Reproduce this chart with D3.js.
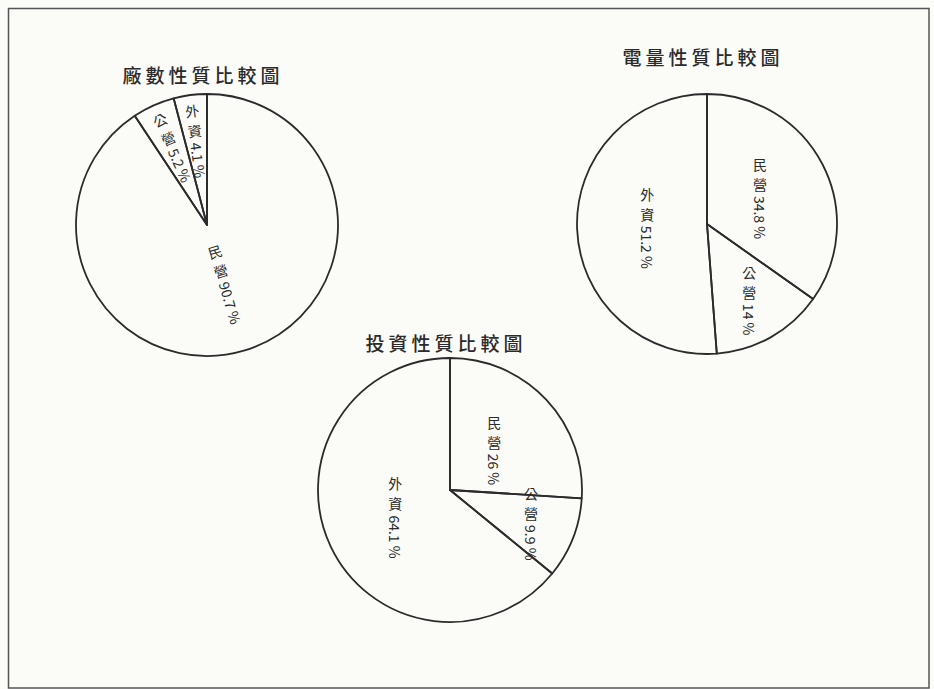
<!DOCTYPE html>
<html>
<head>
<meta charset="utf-8">
<script src="https://cdn.jsdelivr.net/npm/d3@7"></script>
<style>
  body { margin: 0; background: #fbfbf8; }
  svg { display: block; }
</style>
</head>
<body>
<div id="data-vis"></div>
<script>
// chart data
const titles = ["廠數性質比較圖", "電量性質比較圖", "投資性質比較圖"];
const categories = ["民營", "公營", "外資"];
const factoryShares = [90.7, 5.2, 4.1];
const powerShares = [34.8, 14, 51.2];
const investShares = [26, 9.9, 64.1];

const w = 934;
const h = 689;
const ink = "#2b2b2b";
const font = "'Noto Sans CJK TC', 'Noto Sans CJK SC', sans-serif";

const charts = [
  { title: titles[0], values: factoryShares, cx: 207, cy: 225, r: 131, ty: 83 },
  { title: titles[1], values: powerShares, cx: 707, cy: 224, r: 130, ty: 65 },
  { title: titles[2], values: investShares, cx: 450, cy: 490, r: 132, ty: 351 }
];

var svg = d3.select("#data-vis")
            .append("svg")
            .attr("width", w)
            .attr("height", h)
            .attr("viewBox", [0, 0, w, h]);

// page frame
svg.append("rect")
    .attr("x", 8.5)
    .attr("y", 8.5)
    .attr("width", w - 5 - 8.5)
    .attr("height", h - 1 - 8.5)
    .attr("fill", "none")
    .attr("stroke", "#555")
    .attr("stroke-width", 1.5);

const pie = d3.pie().sort(null).value(d => d.value);

// vertical label: upright characters, then the number turned sideways
function verticalLabel(sel, name, value){
    const step = 20;
    const inner = sel.append("g");
    name.split("").forEach(function(ch, i){
        inner.append("text")
            .attr("x", 0)
            .attr("y", i * step + step / 2)
            .attr("text-anchor", "middle")
            .attr("dominant-baseline", "central")
            .attr("fill", ink)
            .style("font-family", font)
            .style("font-size", "14px")
            .text(ch);
    });
    const y0 = name.length * step + 2;
    const num = inner.append("text")
        .attr("transform", `translate(0,${y0}) rotate(90)`)
        .attr("dominant-baseline", "central")
        .attr("fill", ink)
        .style("font-family", font)
        .style("font-size", "14px")
        .text(`${value} %`);
    const total = y0 + num.node().getComputedTextLength();
    inner.attr("transform", `translate(0,${-total / 2})`);
}

charts.forEach(function(c){
    const data = categories.map((k, i) => ({ name: k, value: c.values[i] }));
    const arcs = pie(data);
    const arc = d3.arc().innerRadius(0).outerRadius(c.r);

    const g = svg.append("g")
        .attr("transform", `translate(${c.cx},${c.cy})`);

    g.selectAll("path")
        .data(arcs)
        .join("path")
        .attr("d", arc)
        .attr("fill", "none")
        .attr("stroke", ink)
        .attr("stroke-width", 1.8)
        .attr("stroke-linejoin", "round");

    g.selectAll("g.label")
        .data(arcs)
        .join("g")
        .attr("class", "label")
        .attr("transform", function(d){
            const frac = (d.endAngle - d.startAngle) / (2 * Math.PI);
            const a = (d.startAngle + d.endAngle) / 2;
            const lr = c.r * (frac < 0.15 ? 0.66 : 0.46);
            const x = Math.sin(a) * lr;
            const y = -Math.cos(a) * lr;
            let deg = a * 180 / Math.PI;
            if (deg > 180) deg -= 360;
            let rot = 0;
            if (Math.abs(deg) < 40) rot = deg;
            else if (Math.abs(Math.abs(deg) - 180) < 25) rot = deg > 0 ? deg - 180 : deg + 180;
            return `translate(${x},${y}) rotate(${rot})`;
        })
        .each(function(d){
            verticalLabel(d3.select(this), d.data.name, d.data.value);
        });

    svg.append("text")
        .attr("x", c.cx - 4)
        .attr("y", c.ty)
        .attr("text-anchor", "middle")
        .attr("fill", ink)
        .style("font-family", font)
        .style("font-size", "19px")
        .style("font-weight", "500")
        .style("letter-spacing", "4px")
        .text(c.title);
});
</script>
</body>
</html>
